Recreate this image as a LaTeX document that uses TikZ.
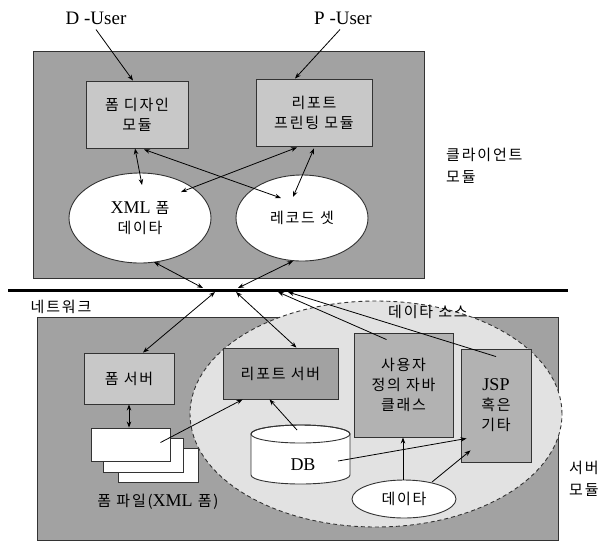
\documentclass[tikz,border=0pt]{standalone}
\usepackage{fontspec}
\setmainfont{Liberation Serif}
\newfontfamily\kr[LetterSpace=12]{Noto Sans CJK KR}
\usetikzlibrary{shapes.geometric,arrows.meta,calc}
\definecolor{outergray}{HTML}{A2A2A2}
\definecolor{boxgray}{HTML}{C8C8C8}
\definecolor{srcgray}{HTML}{E2E2E2}
\definecolor{innergray}{HTML}{B2B2B2}
\definecolor{edgegray}{HTML}{333333}
\tikzset{
  panel/.style={draw=edgegray, fill=outergray, line width=0.8pt, inner sep=0pt},
  modbox/.style={draw=edgegray, fill=boxgray, line width=0.9pt, inner sep=0pt, align=center, font=\kr\fontsize{15}{20}\selectfont},
  srvbox/.style={modbox, fill=innergray},
  ell/.style={ellipse, draw=edgegray, fill=white, line width=0.9pt, inner sep=0pt, align=center, font=\kr\fontsize{15}{20}\selectfont},
  page/.style={draw=edgegray, fill=white, line width=0.9pt, inner sep=0pt},
  lbl/.style={font=\fontsize{19}{22}\selectfont, inner sep=1pt},
  krlbl/.style={font=\kr\fontsize{15}{22}\selectfont, inner sep=0pt, align=left},
  arr/.style={-{Stealth[length=6pt,width=4.5pt]}, line width=0.8pt},
  darr/.style={{Stealth[length=6pt,width=4.5pt]}-{Stealth[length=6pt,width=4.5pt]}, line width=0.8pt}
}
\newcommand{\lat}[1]{{\rmfamily\fontsize{18}{20}\selectfont #1}}
\begin{document}
\begin{tikzpicture}[x=1pt,y=-1pt]
\useasboundingbox (0,0) rectangle (605,542);
% panels
\node[panel, minimum width=391, minimum height=227] (client) at (228.5,164.5) {};
\node[panel, minimum width=521, minimum height=223] (server) at (297.5,428.5) {};
\node[ellipse, draw=edgegray, dash pattern=on 4pt off 3pt, fill=srcgray, line width=0.9pt, minimum width=372, minimum height=226, inner sep=0pt] (src) at (376,414) {};
% network
\coordinate (netL) at (8,290);
\coordinate (netR) at (568,290);
\draw[line width=3pt] (netL) -- (netR);
\coordinate (n1) at (203,288);
\coordinate (n2) at (238,288);
\coordinate (n3) at (215,292);
\coordinate (n4) at (236,292);
\coordinate (n5) at (278,292);
\coordinate (n6) at (288,292);
% labels
\node[lbl] (duser) at (96,18) {D -User};
\node[lbl] (puser) at (343,18) {P -User};
\node[krlbl, anchor=west] (clbl) at (446,166) {클라이언트\\모듈};
\node[krlbl] (netlbl) at (61,307) {네트워크};
\node[krlbl] (srclbl) at (428,312) {데이타 소스};
\node[krlbl, anchor=west] (slbl) at (569,479) {서버\\모듈};
% client modules
\node[modbox, minimum width=102, minimum height=67] (fd) at (137,114.5) {폼 디자인\\모듈};
\node[modbox, minimum width=116, minimum height=67] (rp) at (314,112.5) {리포트\\프린팅 모듈};
\node[ell, minimum width=142, minimum height=90] (xml) at (140,218) {\lat{XML} 폼\\데이타};
\node[ell, minimum width=132, minimum height=86] (rec) at (302,218) {레코드 셋};
% server modules
\node[modbox, minimum width=90, minimum height=51] (fs) at (129,378.5) {폼 서버};
\node[srvbox, fill=outergray, minimum width=115, minimum height=51] (rs) at (280.5,373.5) {리포트 서버};
\node[srvbox, minimum width=99, minimum height=104] (user) at (403.5,385) {사용자\\정의 자바\\클래스};
\node[srvbox, minimum width=70, minimum height=113] (jsp) at (496,405.5) {\lat{JSP}\\혹은\\기타};
% pages
\node[page, minimum width=80, minimum height=34] (pg3) at (158,465) {};
\node[page, minimum width=80, minimum height=34] (pg2) at (143,455) {};
\node[page, minimum width=79, minimum height=33] (pg1) at (130.5,444.5) {};
\node[krlbl] (pglbl) at (158,502) {폼 파일(\lat{XML} 폼)};
% database cylinder
\path[draw=edgegray, fill=white, line width=0.9pt] (251,434) -- (251,475) arc[start angle=180, end angle=0, x radius=49.5, y radius=9] -- (350,434) arc[start angle=0, end angle=-180, x radius=49.5, y radius=9] -- cycle;
\draw[edgegray, line width=0.9pt] (300.5,434) ellipse[x radius=49.5, y radius=9];
\node[font=\fontsize{18}{20}\selectfont, inner sep=0pt] (db) at (303,465) {DB};
\node[ell, minimum width=104, minimum height=38] (data) at (404,499) {데이타};
% client arrows
\draw[arr] ($(duser.south)+(0,4)$) -- ($(fd.north)+(-4,0)$);
\draw[arr] ($(puser.south)+(-3,4)$) -- ($(rp.north)+(-19,0)$);
\draw[darr] ($(fd.south)+(-2,0)$) -- ($(xml.center)+(2,-33)$);
\draw[darr] ($(fd.south)+(7,1)$) -- ($(rec.center)+(-21,-20)$);
\draw[darr] ($(rp.south)+(-17,1)$) -- ($(xml.center)+(41,-26)$);
\draw[darr] ($(rp.south)+(0,2)$) -- ($(rec.center)+(-9,-21)$);
\draw[darr] ($(xml.center)+(14,44)$) -- (n1);
\draw[darr] ($(rec.center)+(-9,43)$) -- (n2);
% server arrows
\draw[darr] ($(fs.north)+(14,0)$) -- (n3);
\draw[darr] ($(rs.north)+(16,0)$) -- (n4);
\draw[arr] ($(user.north)+(-17,7)$) -- (n5);
\draw[arr] ($(jsp.north)+(0,8)$) -- (n6);
\draw[darr] (fs.south) -- (fs.south |- pg1.north);
\draw[arr] ($(pg1.center)+(30,-2)$) -- ($(rs.south west)+(20,0)$);
\draw[arr] ($(db.center)+(-6,-35)$) -- ($(rs.south)+(-11,0)$);
\draw[arr] ($(db.center)+(35,-4)$) -- ($(jsp.south west)+(6,-24)$);
\draw[arr] ($(data.north)+(-1,0)$) -- ($(user.south)+(-0.5,0)$);
\draw[arr] ($(data.center)+(28,-17)$) -- ($(jsp.south west)+(10,-12)$);
\end{tikzpicture}
\end{document}
